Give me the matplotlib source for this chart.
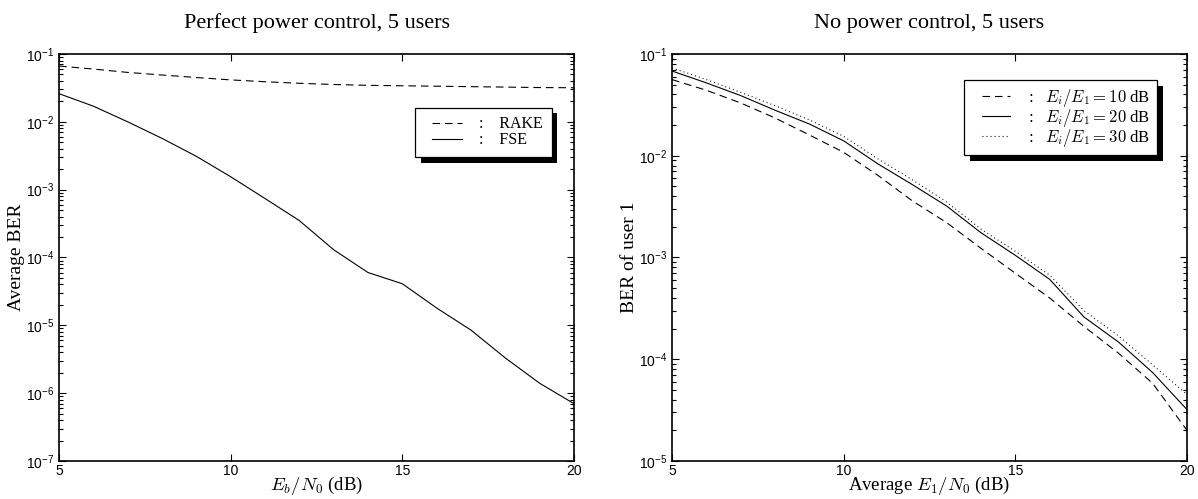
import numpy as np
import matplotlib
matplotlib.use("Agg")
import matplotlib.pyplot as plt
import matplotlib.patheffects as pe
from matplotlib.lines import Line2D
from matplotlib.legend_handler import HandlerLine2D
from matplotlib.ticker import FuncFormatter, LogLocator, NullFormatter, FixedLocator

plt.rcParams['font.family'] = ['Liberation Serif', 'DejaVu Serif']
plt.rcParams['mathtext.fontset'] = 'cm'
plt.rcParams['lines.scale_dashes'] = False

# data
snr = [5, 6, 7, 8, 9, 10, 11, 12, 13, 14, 15, 16, 17, 18, 19, 20]

rake = [0.0665, 0.060, 0.0535, 0.049, 0.045, 0.0415, 0.039, 0.037,
        0.0355, 0.0345, 0.034, 0.0335, 0.033, 0.0325, 0.032, 0.0318]
fse = [2.6e-2, 1.7e-2, 1.0e-2, 5.7e-3, 3.1e-3, 1.55e-3, 7.4e-4, 3.5e-4,
       1.3e-4, 6.0e-5, 4.1e-5, 1.8e-5, 8.5e-6, 3.3e-6, 1.4e-6, 7.0e-7]

ber_10db = [0.056, 0.044, 0.033, 0.0235, 0.016, 0.0108, 0.0064, 0.0036,
            0.0022, 0.00123, 7.0e-4, 4.0e-4, 2.1e-4, 1.15e-4, 5.8e-5, 2.0e-5]
ber_20db = [0.068, 0.052, 0.039, 0.028, 0.0205, 0.014, 0.0083, 0.0052,
            0.0032, 0.00175, 1.05e-3, 6.1e-4, 2.6e-4, 1.48e-4, 7.4e-5, 3.2e-5]
ber_30db = [0.073, 0.056, 0.042, 0.031, 0.0225, 0.0155, 0.0093, 0.0058,
            0.0035, 0.0019, 1.15e-3, 6.7e-4, 3.0e-4, 1.7e-4, 8.8e-5, 4.5e-5]

xticks = [5, 10, 15, 20]

DASH = (0, (5.5, 3.5))
DOT = (0, (0.7, 2.2))
LW = 0.8


def style_axes(ax, ymin, ymax):
    ax.set_yscale('log')
    ax.set_xlim(5, 20)
    ax.set_ylim(ymin, ymax)
    ax.xaxis.set_major_locator(FixedLocator(xticks))
    ax.yaxis.set_major_locator(LogLocator(base=10, numticks=20))
    ax.yaxis.set_minor_locator(LogLocator(base=10, subs=np.arange(2, 10), numticks=20))
    ax.yaxis.set_minor_formatter(NullFormatter())
    ax.yaxis.set_major_formatter(FuncFormatter(
        lambda v, p: r'$\mathregular{10^{%d}}$' % int(round(np.log10(v)))))
    ax.tick_params(which='both', direction='in', top=True, right=True,
                   labelsize=10, width=0.8)
    ax.tick_params(axis='x', pad=2)
    ax.tick_params(which='major', length=5)
    ax.tick_params(which='minor', length=3)
    for lab in ax.get_xticklabels() + ax.get_yticklabels():
        lab.set_fontfamily('Liberation Sans')
    for s in ax.spines.values():
        s.set_linewidth(1.2)


def shadow_legend(ax, anchor, xpad, **kw):
    leg = ax.legend(loc='upper right', bbox_to_anchor=anchor, borderaxespad=0,
                    fancybox=False, framealpha=1, edgecolor='black',
                    handler_map={Line2D: HandlerLine2D(xpad=xpad)}, **kw)
    fr = leg.get_frame()
    fr.set_linewidth(0.9)
    fr.set_path_effects([pe.SimplePatchShadow(offset=(4, -4), shadow_rgbFace='black',
                                              alpha=1), pe.Normal()])
    return leg


fig = plt.figure(figsize=(11.98, 4.99), dpi=100)
ax1 = fig.add_axes([0.0493, 0.0762, 0.4298, 0.8156])
ax2 = fig.add_axes([0.5610, 0.0762, 0.4298, 0.8156])

# left panel
ax1.plot(snr, rake, color='black', lw=LW, linestyle=DASH, label=':    RAKE')
ax1.plot(snr, fse, color='black', lw=LW, linestyle='-', label=':    FSE')
style_axes(ax1, 1e-7, 1e-1)
ax1.set_title('Perfect power control, 5 users', fontsize=16, pad=19)
ax1.set_ylabel('Average BER', fontsize=14, labelpad=1)
ax1.set_xlabel(r'$E_b/N_0$ (dB)', fontsize=13.5, labelpad=-2.5)
shadow_legend(ax1, (0.957, 0.868), 0.5, fontsize=11.5, labelspacing=0.0,
              borderpad=0.55, handlelength=2.375, handletextpad=1.1)

# right panel
ax2.plot(snr, ber_10db, color='black', lw=LW, linestyle=DASH,
         label=r':   $E_i/E_1 = 10$ dB')
ax2.plot(snr, ber_20db, color='black', lw=LW, linestyle='-',
         label=r':   $E_i/E_1 = 20$ dB')
ax2.plot(snr, ber_30db, color='black', lw=LW, linestyle=DOT,
         label=r':   $E_i/E_1 = 30$ dB')
style_axes(ax2, 1e-5, 1e-1)
ax2.set_title('No power control, 5 users', fontsize=16, pad=19)
ax2.set_ylabel('BER of user 1', fontsize=14, labelpad=1)
ax2.set_xlabel(r'Average $E_1/N_0$ (dB)', fontsize=13.5, labelpad=-2.5)
shadow_legend(ax2, (0.942, 0.936), 0.68, fontsize=12, labelspacing=-0.12,
              borderpad=0.4, handlelength=2.35, handletextpad=1.08)

fig.savefig('out.png', dpi=100)
